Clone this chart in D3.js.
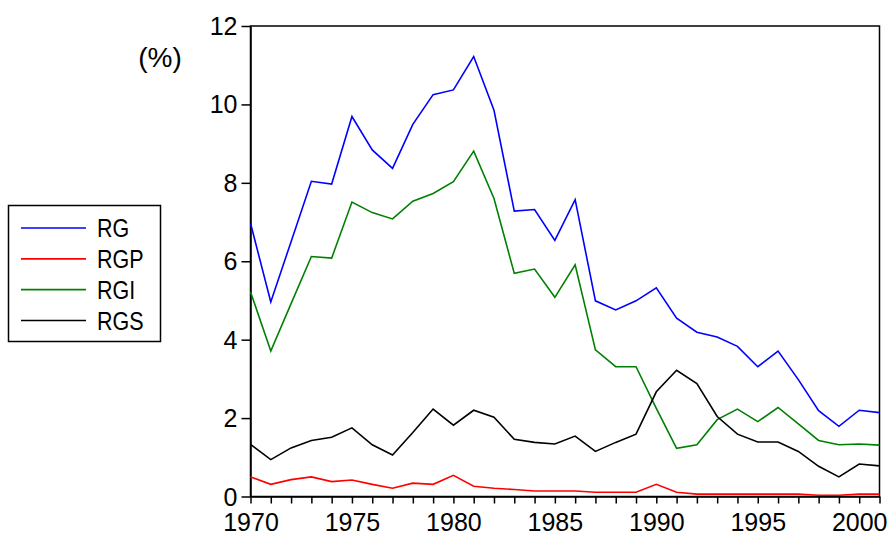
<!DOCTYPE html>
<html lang="en">
  <head>
    <style>
      body { margin: 0; background: #fff; }
      text { font-family: "Liberation Sans", Arial, sans-serif; fill: #000; }
      .axis path, .axis line { stroke: #000; stroke-width: 1.5; }
      .axis text { font-size: 25px; }
    </style>
  </head>

  <body>
    <svg id="container" height="544" width="890"></svg>
  </body>
  <script src="https://d3js.org/d3.v7.min.js"></script>
  <script>
let years = [1970, 1971, 1972, 1973, 1974, 1975, 1976, 1977, 1978, 1979,
             1980, 1981, 1982, 1983, 1984, 1985, 1986, 1987, 1988, 1989,
             1990, 1991, 1992, 1993, 1994, 1995, 1996, 1997, 1998, 1999,
             2000, 2001]

let rg = [6.97, 4.96, 6.50, 8.04, 7.97, 9.69, 8.84, 8.37, 9.49, 10.25,
          10.37, 11.22, 9.85, 7.28, 7.32, 6.53, 7.57, 4.99, 4.76, 4.99,
          5.32, 4.55, 4.19, 4.07, 3.83, 3.31, 3.71, 2.98, 2.19, 1.79,
          2.20, 2.14]
let rgp = [0.50, 0.31, 0.43, 0.50, 0.38, 0.42, 0.31, 0.21, 0.34, 0.31,
           0.54, 0.26, 0.21, 0.18, 0.14, 0.14, 0.14, 0.11, 0.11, 0.11,
           0.31, 0.11, 0.06, 0.06, 0.06, 0.06, 0.06, 0.06, 0.03, 0.03,
           0.06, 0.06]
let rgi = [5.22, 3.71, 4.92, 6.12, 6.08, 7.51, 7.24, 7.08, 7.53, 7.73,
           8.03, 8.81, 7.60, 5.69, 5.80, 5.08, 5.91, 3.74, 3.31, 3.31,
           2.25, 1.23, 1.32, 1.96, 2.23, 1.91, 2.27, 1.85, 1.43, 1.32,
           1.34, 1.31]
let rgs = [1.33, 0.94, 1.24, 1.43, 1.51, 1.75, 1.32, 1.06, 1.63, 2.23,
           1.82, 2.20, 2.02, 1.46, 1.38, 1.34, 1.54, 1.15, 1.38, 1.59,
           2.67, 3.22, 2.88, 2.04, 1.59, 1.39, 1.39, 1.15, 0.77, 0.50,
           0.83, 0.78]

let seriesNames = ["RG", "RGP", "RGI", "RGS"]
let seriesColors = ["#0000ff", "#ff0000", "#008000", "#000000"]
let yTicks = [0, 2, 4, 6, 8, 10, 12]
let xLabelYears = [1970, 1975, 1980, 1985, 1990, 1995, 2000]

let series = [rg, rgp, rgi, rgs].map((values, i) => ({
    name: seriesNames[i],
    color: seriesColors[i],
    values: values
}))

let svg = d3.select("#container")
let plotLeft = 250.5, plotRight = 879.5, plotTop = 26, plotBottom = 496.5

let x = d3.scaleLinear().domain([1970, 2001]).range([plotLeft, plotRight])
let y = d3.scaleLinear().domain([0, 12]).range([plotBottom, plotTop])

// frame
svg.append("rect")
    .attr("x", plotLeft)
    .attr("y", plotTop)
    .attr("width", plotRight - plotLeft)
    .attr("height", plotBottom - plotTop)
    .attr("fill", "none")
    .attr("stroke", "#000")
    .attr("stroke-width", 1.5)

let yAxis = svg.append("g")
    .attr("class", "axis")
    .attr("transform", `translate(${plotLeft},0)`)
    .call(d3.axisLeft(y).tickValues(yTicks).tickSize(9).tickPadding(4).tickSizeOuter(0))
yAxis.selectAll("text").attr("dy", "0.34em")

let xAxis = svg.append("g")
    .attr("class", "axis")
    .attr("transform", `translate(0,${plotBottom})`)
    .call(d3.axisBottom(x)
        .tickValues(years)
        .tickSize(7)
        .tickPadding(10)
        .tickSizeOuter(0)
        .tickFormat(d => xLabelYears.includes(d) ? String(d) : ""))

let line = d3.line()
    .x((d, i) => x(years[i]))
    .y(d => y(d))

svg.append("g")
    .attr("class", "lines")
    .selectAll("path")
    .data(series)
    .enter()
    .append("path")
        .attr("d", d => line(d.values))
        .attr("fill", "none")
        .attr("stroke", d => d.color)
        .attr("stroke-width", 1.6)
        .attr("stroke-linejoin", "miter")

// unit label
svg.append("text")
    .attr("x", 160)
    .attr("y", 67)
    .attr("text-anchor", "middle")
    .attr("font-size", 28)
    .text("(%)")

// legend
let legend = svg.append("g").attr("class", "legend")
legend.append("rect")
    .attr("x", 8.5)
    .attr("y", 205.5)
    .attr("width", 152)
    .attr("height", 136)
    .attr("fill", "#fff")
    .attr("stroke", "#000")
    .attr("stroke-width", 1.5)

let legendY = d3.scaleLinear().domain([0, 3]).range([228, 320.5])

let items = legend.selectAll(".item")
    .data(series)
    .enter()
    .append("g")
        .attr("class", "item")
        .attr("transform", (d, i) => `translate(0,${legendY(i)})`)

items.append("line")
    .attr("x1", 21)
    .attr("x2", 86)
    .attr("stroke", d => d.color)
    .attr("stroke-width", 1.6)

items.append("text")
    .attr("transform", "translate(97,0) scale(1,1.22)")
    .attr("dy", "0.36em")
    .attr("font-size", 21.5)
    .text(d => d.name)

  </script>
</html>
